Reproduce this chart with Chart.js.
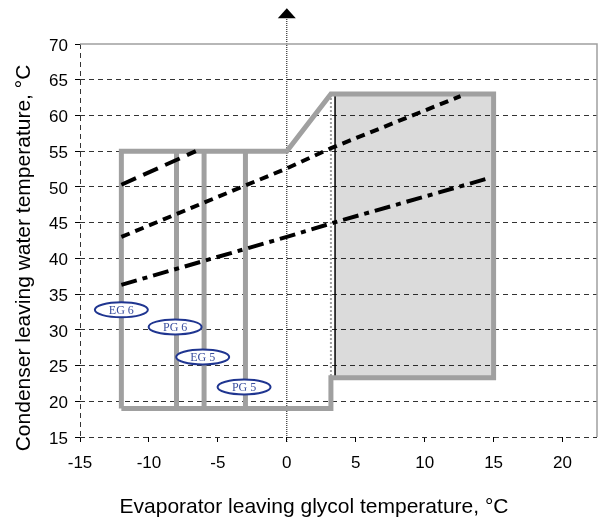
<!doctype html>
<html lang="en">
<head>
    <meta charset="utf-8">
    <title>Operating envelope</title>
    <style>
        html, body { margin: 0; padding: 0; background: #fff; }
        #wrap { width: 600px; height: 518px; }
    </style>
</head>
<body>
    <div id="wrap"><canvas id="envelopeChart" width="600" height="518"></canvas></div>
    <script src="https://cdn.jsdelivr.net/npm/chart.js"></script>
    <script>
        // axis ranges / ticks
        const xMin = -15, xMax = 22.5;
        const xTicks = [-15, -10, -5, 0, 5, 10, 15, 20];
        const yMin = 15, yMax = 70, yStep = 5;

        // operating envelope (thick grey outline)
        const envelopeX = [-12, 3.2, 3.2, 15, 15, 3.2, 0, -12, -12];
        const envelopeY = [19, 19, 23.3, 23.3, 63, 63, 55, 55, 19];

        // glycol limit lines inside the envelope
        const limitX = [-8, -6, -3];
        const limitTop = 55, limitBottom = 19;

        // shaded area (standard range)
        const shadeX = [3.5, 15];
        const shadeY = [63, 63];
        const shadeBottom = 23.3;

        // vertical marks at ~3.2 / 3.5 degC
        const dottedX = [3.2, 3.2], dottedY = [63, 23.3];
        const solidX = [3.5, 3.5], solidY = [63, 23.3];

        // x = 0 axis with arrow
        const zeroX = [0, 0], zeroY = [14.3, 73.6];
        const arrowPoint = { x: 0, y: 74.3 };

        // black curves
        const longDashX = [-12, -6.6];
        const longDashY = [50.3, 55];
        const shortDashX = [-12, 0, 3.3, 12.6];
        const shortDashY = [43, 52.6, 55.5, 62.7];
        const dashDotX = [-12, 0, 3.4, 14.8];
        const dashDotY = [36.3, 43, 45, 51.3];

        // ellipse labels
        const labelText = ['EG 6', 'PG 6', 'EG 5', 'PG 5'];
        const labelX = [-12, -8.1, -6.1, -3.1];
        const labelY = [32.8, 30.4, 26.2, 22.0];

        const pts = (xs, ys) => xs.map((x, i) => ({ x: x, y: ys[i] }));
        const font = 'Arial, "Liberation Sans", sans-serif';
        const grey = '#a0a0a0';

        const line = (data, extra) => Object.assign({
            data: data,
            showLine: true,
            fill: false,
            pointRadius: 0,
            borderColor: '#000',
            borderWidth: 4,
            tension: 0
        }, extra);

        const datasets = [
            line(pts(shadeX, shadeY), { fill: { value: shadeBottom }, backgroundColor: 'rgba(0,0,0,0.14)', borderWidth: 0, order: 10 }),
            line(pts(zeroX, zeroY), { borderWidth: 1, borderDash: [1, 1], clip: false, order: 9 }),
            line(pts(dottedX, dottedY), { borderColor: grey, borderWidth: 2, borderDash: [2, 2], order: 8 }),
            line(pts(solidX, solidY), { borderWidth: 1.5, order: 7 }),
            line(pts(envelopeX, envelopeY), { borderColor: grey, borderWidth: 5, borderJoinStyle: 'miter', order: 5 }),
        ];
        limitX.forEach((lx) => {
            datasets.push(line(pts([lx, lx], [limitTop, limitBottom]), { borderColor: grey, borderWidth: 5, order: 5 }));
        });
        datasets.push(line(pts(longDashX, longDashY), { borderDash: [16, 8], order: 2 }));
        datasets.push(line(pts(shortDashX, shortDashY), { borderDash: [9, 6], order: 2 }));
        datasets.push(line(pts(dashDotX, dashDotY), { borderDash: [16, 6, 5, 6], order: 2 }));

        // arrow head + labels in blue ellipses, placed through the scales
        const marks = {
            id: 'marks',
            afterDatasetsDraw(chart) {
                const { ctx, scales: { x, y } } = chart;
                ctx.save();
                const ax = x.getPixelForValue(arrowPoint.x);
                const ay = y.getPixelForValue(arrowPoint.y);
                ctx.fillStyle = '#000';
                ctx.beginPath();
                ctx.moveTo(ax, ay - 5);
                ctx.lineTo(ax + 9, ay + 5);
                ctx.lineTo(ax - 9, ay + 5);
                ctx.closePath();
                ctx.fill();

                labelText.forEach((t, i) => {
                    const px = x.getPixelForValue(labelX[i]);
                    const py = y.getPixelForValue(labelY[i]);
                    ctx.beginPath();
                    ctx.ellipse(px, py, 26.5, 7.5, 0, 0, Math.PI * 2);
                    ctx.fillStyle = '#fff';
                    ctx.fill();
                    ctx.lineWidth = 2;
                    ctx.strokeStyle = '#1f3590';
                    ctx.stroke();
                    ctx.fillStyle = '#3a4f9f';
                    ctx.font = '12px "Liberation Serif", "DejaVu Serif", serif';
                    ctx.textAlign = 'center';
                    ctx.textBaseline = 'middle';
                    ctx.fillText(t, px, py + 1);
                });
                ctx.restore();
            }
        };

        // frame (top / right) and axis titles
        const frameAndTitles = {
            id: 'frameAndTitles',
            afterDraw(chart) {
                const { ctx, chartArea: a } = chart;
                ctx.save();
                ctx.strokeStyle = grey;
                ctx.lineWidth = 1.5;
                ctx.beginPath();
                ctx.moveTo(a.left, a.top);
                ctx.lineTo(a.right, a.top);
                ctx.lineTo(a.right, a.bottom);
                ctx.stroke();

                ctx.fillStyle = '#000';
                ctx.font = '21px ' + font;
                ctx.textAlign = 'center';
                ctx.textBaseline = 'middle';
                ctx.fillText('Evaporator leaving glycol temperature, °C', 314, 507);
                ctx.translate(24, 258);
                ctx.rotate(-Math.PI / 2);
                ctx.fillText('Condenser leaving water temperature, °C', 0, 0);
                ctx.restore();
            }
        };

        new Chart(document.getElementById('envelopeChart'), {
            type: 'scatter',
            data: { datasets: datasets },
            plugins: [marks, frameAndTitles],
            options: {
                responsive: false,
                animation: false,
                events: [],
                layout: { padding: { top: 44, right: 3, left: 0, bottom: 0 } },
                plugins: {
                    legend: { display: false },
                    tooltip: { enabled: false }
                },
                scales: {
                    x: {
                        type: 'linear',
                        min: xMin,
                        max: xMax,
                        afterBuildTicks: (scale) => {
                            scale.ticks = xTicks.map((v) => ({ value: v }));
                        },
                        afterFit: (scale) => { scale.height = 81; },
                        ticks: {
                            color: '#000',
                            padding: 11,
                            maxRotation: 0,
                            autoSkip: false,
                            font: { family: font, size: 17 }
                        },
                        grid: {
                            color: (c) => (c.tick && c.tick.value === xMin ? '#333' : 'rgba(0,0,0,0)'),
                            tickColor: '#000',
                            tickLength: 5,
                            lineWidth: 1
                        },
                        border: { display: false, dash: [5, 4] }
                    },
                    y: {
                        min: yMin,
                        max: yMax,
                        afterFit: (scale) => { scale.width = 80; },
                        ticks: {
                            stepSize: yStep,
                            color: '#000',
                            padding: 7,
                            labelOffset: 2,
                            font: { family: font, size: 17 }
                        },
                        grid: {
                            color: (c) => (c.tick && c.tick.value === yMax ? 'rgba(0,0,0,0)' : '#333'),
                            tickColor: '#000',
                            tickLength: 5,
                            lineWidth: 1
                        },
                        border: { display: false, dash: [5, 4] }
                    }
                }
            }
        });
    </script>
</body>
</html>
